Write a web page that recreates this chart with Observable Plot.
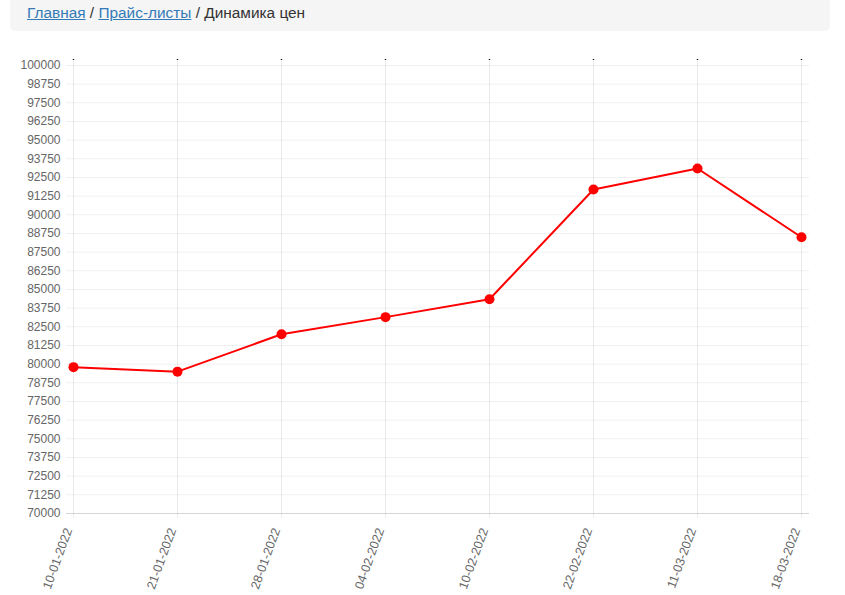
<!DOCTYPE html>
<html>
<head>
<meta charset="utf-8">
<script src="https://cdn.jsdelivr.net/npm/d3@7"></script>
<script src="https://cdn.jsdelivr.net/npm/@observablehq/plot@0.6"></script>
<style>
  html, body { margin: 0; padding: 0; background: #fff; }
  body { width: 845px; height: 595px; overflow: hidden; position: relative; font-family: "Liberation Sans", Arial, Helvetica, sans-serif; }
  .crumb {
    position: absolute; left: 10px; top: 0; width: 820px; height: 31px;
    background: #f5f5f5; border-radius: 0 0 5px 5px; box-sizing: border-box;
    padding: 3px 0 0 17px; font-size: 15.4px; line-height: 20px; color: #333;
  }
  .crumb a { color: #337ab7; text-decoration: underline; }
  #chart { position: absolute; left: 0; top: 31px; }
</style>
</head>
<body>
<div class="crumb"><a href="#">Главная</a> / <a href="#">Прайс-листы</a> / Динамика цен</div>
<div id="chart"></div>
<script>
const dates = ["10-01-2022", "21-01-2022", "28-01-2022", "04-02-2022", "10-02-2022", "22-02-2022", "11-03-2022", "18-03-2022"];
const prices = [79800, 79500, 82000, 83150, 84350, 91700, 93100, 88500];
const yTicks = d3.range(70000, 100001, 1250);

const data = dates.map((d, i) => ({date: d, price: prices[i]}));

const chart = Plot.plot({
  width: 845,
  height: 564,
  marginTop: 34,
  marginBottom: 82,
  marginLeft: 71,
  marginRight: 42,
  style: {fontFamily: "'Liberation Sans', Arial, Helvetica, sans-serif", fontSize: "12px", color: "#666", background: "transparent"},
  x: {type: "point", domain: dates, padding: 0, label: null},
  y: {domain: [70000, 100000], label: null},
  marks: [
    Plot.ruleY(yTicks, {y: d => d, stroke: "#000", strokeOpacity: 0.06, insetLeft: -5, insetRight: -6}),
    Plot.ruleX(dates, {x: d => d, stroke: "#000", strokeOpacity: 0.08, insetTop: -5, insetBottom: -5}),
    Plot.ruleX(dates, {x: d => d, y1: 100000, y2: 100000, insetTop: -6, insetBottom: 5, stroke: "#222", strokeWidth: 1.5}),
    Plot.ruleY([70000], {stroke: "#000", strokeOpacity: 0.1, insetLeft: -5, insetRight: -6}),
    Plot.axisY({ticks: yTicks, tickFormat: d => String(d), tickSize: 0, tickPadding: 11, fill: "#666", fontSize: 12}),
    Plot.axisX({tickSize: 0, tickPadding: 15, tickRotate: -70, dx: -5, fill: "#666", fontSize: 12.5}),
    Plot.line(data, {x: "date", y: "price", stroke: "#ff0000", strokeWidth: 2}),
    Plot.dot(data, {x: "date", y: "price", r: 5, fill: "#ff0000", stroke: "none"})
  ]
});
document.getElementById("chart").appendChild(chart);
</script>
</body>
</html>
